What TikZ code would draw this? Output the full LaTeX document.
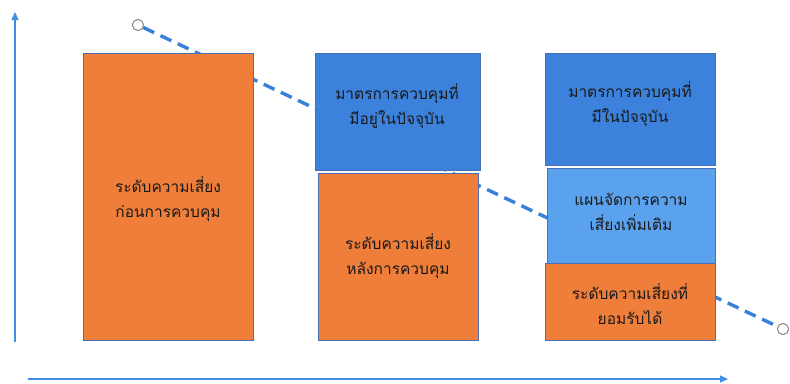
\documentclass[tikz,border=0pt]{standalone}
\usepackage{fontspec}
\newfontfamily\thaifont[Script=Thai]{Loma}
\usetikzlibrary{arrows.meta}
\definecolor{orangebox}{HTML}{EF7E3A}
\definecolor{bluebox}{HTML}{3C82DC}
\definecolor{lightbluebox}{HTML}{5BA2EE}
\definecolor{edgeblue}{HTML}{4A6FB5}
\definecolor{axisblue}{HTML}{3F8FE6}
\definecolor{dashblue}{HTML}{3A80DA}
\tikzset{
  riskbox/.style={draw=edgeblue, line width=0.6pt, fill=orangebox},
  ctrlbox/.style={riskbox, fill=bluebox},
  planbox/.style={riskbox, fill=lightbluebox},
  boxtext/.style={font=\thaifont\fontsize{15.5}{25}\selectfont, align=center, text=black!90},
  axisline/.style={axisblue, line width=1.2pt, -{Triangle[length=8pt,width=7pt]}},
  trendline/.style={dashblue, line width=3.4pt, dash pattern=on 12pt off 7pt},
  endring/.style={circle, draw=gray, fill=white, line width=0.8pt, minimum size=11pt, inner sep=0pt}
}
\begin{document}
\begin{tikzpicture}[x=1pt,y=-1pt]
\useasboundingbox (0,0) rectangle (790,383);
% axes
\coordinate (yb) at (15,342);
\coordinate (yt) at (15,12);
\coordinate (xl) at (28,379);
\coordinate (xr) at (728,379);
\draw[axisline] (yb) -- (yt);
\draw[axisline] (xl) -- (xr);
% trend endpoints
\node[endring] (s) at (138,25) {};
\node[endring] (e) at (783,329) {};
\draw[trendline] (s) -- (e);
\node[endring] at (138,25) {};
\node[endring] at (783,329) {};
% column 1
\path[riskbox] (83,53) rectangle (253,340);
\node[boxtext] (c1) at (168,199) {ระดับความเสี่ยง\\ก่อนการควบคุม};
% column 2
\path[ctrlbox] (315,53) rectangle (480,170);
\node[boxtext] (c2a) at (397,106) {มาตรการควบคุมที่\\มีอยู่ในปัจจุบัน};
\path[riskbox] (318,173) rectangle (478,340);
\node[boxtext] (c2b) at (398,256) {ระดับความเสี่ยง\\หลังการควบคุม};
% column 3
\path[ctrlbox] (545,53) rectangle (715,165);
\node[boxtext] (c3a) at (630,104) {มาตรการควบคุมที่\\มีในปัจจุบัน};
\path[planbox] (547,168) rectangle (715,263);
\node[boxtext] (c3b) at (631,212) {แผนจัดการความ\\เสี่ยงเพิ่มเติม};
\path[riskbox] (545,263) rectangle (715,340);
\node[boxtext] (c3c) at (630,304) {ระดับความเสี่ยงที่\\ยอมรับได้};
\end{tikzpicture}
\end{document}
